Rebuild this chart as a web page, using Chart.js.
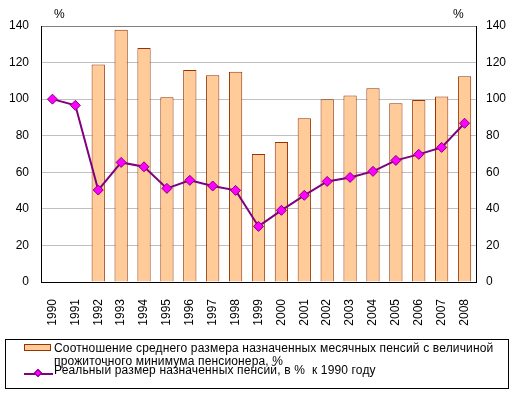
<!DOCTYPE html>
<html>
<head>
<meta charset="utf-8">
<script src="https://cdn.jsdelivr.net/npm/chart.js@4.4.0/dist/chart.umd.min.js"></script>
<style>
  body { margin: 0; background: #fff; font-family: "Liberation Sans", Arial, sans-serif; }
  #wrap { position: relative; width: 514px; height: 395px; }
  #chart { position: absolute; left: 0; top: 0; }
  .pct { position: absolute; font-size: 12px; line-height: 14px; color: #000; }
  #legend { position: absolute; left: 5px; top: 339px; width: 502px; height: 48px; border: 1px solid #000; }
  .lg-text { position: absolute; font-size: 12px; line-height: 13px; color: #000; white-space: nowrap; letter-spacing: 0.15px; }
  #sw-bar { position: absolute; left: 18px; top: 4px; width: 27px; height: 7px; box-sizing: border-box;
            background: #ffcc99; border: 1px solid #993300; }
  #sw-line { position: absolute; left: 18px; top: 33px; width: 29px; height: 2px; background: #800080; }
  #sw-dot { position: absolute; left: 29px; top: 30px; width: 6px; height: 6px; box-sizing: border-box;
            background: #ff00ff; border: 1px solid #800080; transform: rotate(45deg); }
</style>
</head>
<body>
<div id="wrap">
  <canvas id="chart" width="514" height="395"></canvas>
  <div class="pct" style="left:54px; top:7px;">%</div>
  <div class="pct" style="left:453px; top:7px;">%</div>
  <div id="legend">
    <div id="sw-bar"></div>
    <div class="lg-text" style="left:48px; top:2px;">Соотношение среднего размера назначенных месячных пенсий с величиной<br>прожиточного минимума пенсионера, %</div>
    <div id="sw-line"></div>
    <div id="sw-dot"></div>
    <div class="lg-text" style="left:48px; top:24px;">Реальный размер назначенных пенсий, в %&nbsp; к 1990 году</div>
  </div>
</div>

<script>
// years on the x axis
const years = ["1990", "1991", "1992", "1993", "1994", "1995", "1996", "1997", "1998", "1999",
               "2000", "2001", "2002", "2003", "2004", "2005", "2006", "2007", "2008"];

// pension / subsistence minimum ratio, %
const ratioValues = [null, null, 119, 138, 128, 101, 116, 113, 115, 70,
                     76.5, 89.5, 100, 102, 106, 97.7, 99.5, 101.5, 112.5];

// real size of pensions, % of 1990
const realValues = [100, 96.6, 50.3, 65.4, 63, 51.2, 55.6, 52.5, 50.1, 30.4,
                    39.2, 47.4, 55, 57.2, 60.5, 66.5, 69.8, 73.6, 86.8];

const yTicks = [0, 20, 40, 60, 80, 100, 120, 140];

const font = { family: "'Liberation Sans', Arial, sans-serif", size: 12 };

new Chart(document.getElementById("chart"), {
  type: "bar",
  data: {
    labels: years,
    datasets: [
      {
        type: "line",
        label: "Реальный размер назначенных пенсий, в %  к 1990 году",
        data: realValues,
        borderColor: "#800080",
        borderWidth: 2,
        pointStyle: "rectRot",
        pointRadius: 5,
        pointBackgroundColor: "#ff00ff",
        pointBorderColor: "#800080",
        pointBorderWidth: 1,
        tension: 0,
        order: 0,
        yAxisID: "y"
      },
      {
        label: "Соотношение среднего размера назначенных месячных пенсий с величиной прожиточного минимума пенсионера, %",
        data: ratioValues,
        backgroundColor: "#ffcc99",
        borderColor: "#993300",
        borderWidth: 1,
        barPercentage: 0.58,
        categoryPercentage: 1.0,
        order: 1,
        yAxisID: "y"
      }
    ]
  },
  options: {
    responsive: false,
    animation: false,
    events: [],
    layout: { padding: { top: 26, left: 0, right: 0, bottom: 0 } },
    plugins: { legend: { display: false }, tooltip: { enabled: false } },
    scales: {
      x: {
        offset: true,
        grid: { display: false },
        border: { color: "#000", width: 1 },
        ticks: {
          color: "#000", font: font, autoSkip: false,
          minRotation: 90, maxRotation: 90, padding: 9
        },
        afterFit: s => { s.height = 113; }
      },
      y: {
        position: "left",
        min: 0, max: 140,
        afterBuildTicks: s => { s.ticks = yTicks.map(v => ({ value: v })); },
        grid: {
          drawTicks: false,
          color: c => (c.tick && c.tick.value === 140 ? "#808080" : "#c0c0c0")
        },
        border: { color: "#000", width: 1 },
        ticks: { color: "#000", font: font, padding: 12 },
        afterFit: s => { s.width = 41; }
      },
      y1: {
        position: "right",
        min: 0, max: 140,
        afterBuildTicks: s => { s.ticks = yTicks.map(v => ({ value: v })); },
        grid: { drawOnChartArea: false, drawTicks: false },
        border: { color: "#000", width: 1 },
        ticks: { color: "#000", font: font, padding: 10 },
        afterFit: s => { s.width = 38; }
      }
    }
  }
});
</script>
</body>
</html>
